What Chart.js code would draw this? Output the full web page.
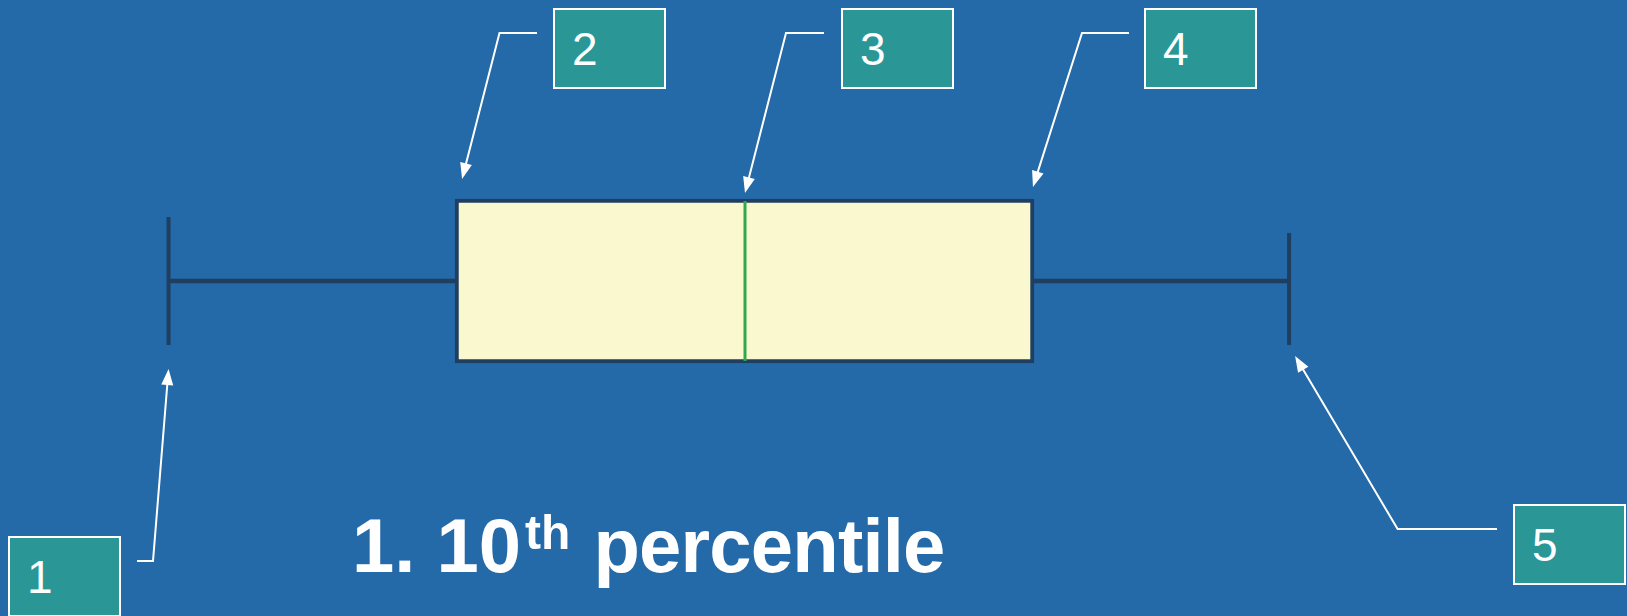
<!DOCTYPE html>
<html>
<head>
<meta charset="utf-8">
<script src="https://cdn.jsdelivr.net/npm/chart.js@4.4.1/dist/chart.umd.min.js"></script>
<style>
html,body{margin:0;padding:0;background:#2469A8;overflow:hidden}
#wrap{position:relative;width:1627px;height:616px;background:#2469A8}
#c{position:absolute;left:0;top:0}
.call{position:absolute;box-sizing:border-box;width:113px;height:81px;background:#2A9696;border:2px solid #fff;color:#fff;font-family:"Liberation Sans",Arial,sans-serif;font-size:46px;line-height:78px;padding-left:17px}
#title{position:absolute;left:352px;top:508px;color:#fff;font-family:"Liberation Sans",Arial,sans-serif;font-weight:bold;font-size:76px;line-height:76px;white-space:nowrap}
#title sup{font-size:48px;line-height:0;vertical-align:23px;margin-left:4px;margin-right:2px}
#title .w{letter-spacing:-0.8px}
</style>
</head>
<body>
<div id="wrap">
<canvas id="c" width="1627" height="616"></canvas>
<div class="call" style="left:8px;top:536px">1</div>
<div class="call" style="left:553px;top:8px">2</div>
<div class="call" style="left:841px;top:8px">3</div>
<div class="call" style="left:1144px;top:8px">4</div>
<div class="call" style="left:1513px;top:504px">5</div>
<div id="title">1. 10<sup>th</sup> <span class="w">percentile</span></div>
</div>
<script>
// Five-number summary (axis units 0–100)
const categories = [""];
const p10 = [10.36];
const q1 = [27.97];
const median = [45.79];
const q3 = [63.55];
const p90 = [79.23];

const NAVY = "#203F60";
const CREAM = "#FAF8CE";
const GREEN = "#2FA84F";
const BOXH = 164;

const boxExtras = {
  id: "boxExtras",
  afterDatasetsDraw(chart) {
    const {ctx, scales: {x, y}} = chart;
    const c = y.getPixelForValue(0);
    ctx.save();
    // caps
    ctx.strokeStyle = NAVY;
    ctx.lineWidth = 4;
    ctx.beginPath();
    const xl = x.getPixelForValue(p10[0]);
    ctx.moveTo(xl, c - 64); ctx.lineTo(xl, c + 64);
    const xr = x.getPixelForValue(p90[0]);
    ctx.moveTo(xr, c - 48); ctx.lineTo(xr, c + 64);
    ctx.stroke();
    // median
    ctx.strokeStyle = GREEN;
    ctx.lineWidth = 3;
    ctx.beginPath();
    const xm = x.getPixelForValue(median[0]);
    ctx.moveTo(xm, c - BOXH / 2 + 2); ctx.lineTo(xm, c + BOXH / 2 - 2);
    ctx.stroke();

    // callout arrows
    const top = c - BOXH / 2, capBot = c + 64;
    const arrows = [
      {pts: [[137, 561], [153, 561]], tip: [xl, capBot + 24]},
      {pts: [[537, 33], [499.5, 33]], tip: [x.getPixelForValue(q1[0]) + 7, top - 20]},
      {pts: [[824, 33], [786, 33]], tip: [xm, top - 6]},
      {pts: [[1129, 33], [1082, 33]], tip: [x.getPixelForValue(q3[0]) - 1, top - 12]},
      {pts: [[1497, 529], [1397.6, 529]], tip: [xr + 6, capBot + 11]}
    ];
    ctx.strokeStyle = "#fff";
    ctx.fillStyle = "#fff";
    ctx.lineWidth = 2;
    arrows.forEach(a => {
      const e = a.pts[1], t = a.tip;
      const dx = t[0] - e[0], dy = t[1] - e[1];
      const L = Math.hypot(dx, dy), ux = dx / L, uy = dy / L;
      const hl = 16, hw = 6;
      const bx = t[0] - ux * hl, by = t[1] - uy * hl;
      ctx.beginPath();
      ctx.moveTo(a.pts[0][0], a.pts[0][1]);
      ctx.lineTo(e[0], e[1]);
      ctx.lineTo(bx + ux * 2, by + uy * 2);
      ctx.stroke();
      ctx.beginPath();
      ctx.moveTo(t[0], t[1]);
      ctx.lineTo(bx - uy * hw, by + ux * hw);
      ctx.lineTo(bx + uy * hw, by - ux * hw);
      ctx.closePath();
      ctx.fill();
    });
    ctx.restore();
  }
};

new Chart(document.getElementById("c"), {
  type: "bar",
  data: {
    labels: categories,
    datasets: [
      {data: q1.map((v, i) => [p10[i], v]), backgroundColor: NAVY, borderWidth: 0, barThickness: 4, grouped: false, order: 2},
      {data: q3.map((v, i) => [v, p90[i]]), backgroundColor: NAVY, borderWidth: 0, barThickness: 4, grouped: false, order: 2},
      {data: q1.map((v, i) => [v, q3[i]]), backgroundColor: CREAM, borderColor: NAVY, borderWidth: 4, borderSkipped: false, barThickness: BOXH, grouped: false, order: 1}
    ]
  },
  options: {
    indexAxis: "y",
    responsive: false,
    animation: false,
    devicePixelRatio: 1,
    layout: {padding: {top: 0, bottom: 54, left: 0, right: 0}},
    plugins: {legend: {display: false}, tooltip: {enabled: false}},
    scales: {
      x: {type: "linear", min: 0, max: 100, display: false},
      y: {type: "category", display: false, offset: true}
    }
  },
  plugins: [boxExtras]
});
</script>
</body>
</html>
